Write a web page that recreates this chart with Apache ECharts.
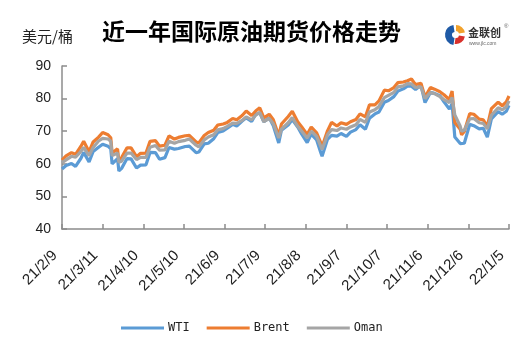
<!DOCTYPE html>
<html>
<head>
<meta charset="utf-8">
<title>近一年国际原油期货价格走势</title>
<script src="https://cdn.jsdelivr.net/npm/echarts@6/dist/echarts.min.js"></script>
<style>
  html, body { margin: 0; padding: 0; background: #fff; }
  #main { width: 531px; height: 354px; }
</style>
</head>
<body>
<div id="main"></div>
<script>
// 日期（按月分行）
var dates = [
  '2021-02-09','2021-02-12','2021-02-16','2021-02-19','2021-02-23','2021-02-25',
  '2021-03-01','2021-03-04','2021-03-08','2021-03-11','2021-03-15','2021-03-17','2021-03-18','2021-03-22','2021-03-23','2021-03-25','2021-03-29',
  '2021-04-01','2021-04-05','2021-04-08','2021-04-12','2021-04-15','2021-04-19','2021-04-22','2021-04-26','2021-04-29',
  '2021-05-03','2021-05-06','2021-05-11','2021-05-14','2021-05-19','2021-05-21','2021-05-25','2021-05-28',
  '2021-06-01','2021-06-04','2021-06-08','2021-06-11','2021-06-15','2021-06-18','2021-06-22','2021-06-25','2021-06-29',
  '2021-07-02','2021-07-05','2021-07-08','2021-07-12','2021-07-15','2021-07-19','2021-07-21','2021-07-26','2021-07-29',
  '2021-08-02','2021-08-05','2021-08-09','2021-08-12','2021-08-16','2021-08-19','2021-08-20','2021-08-24','2021-08-27','2021-08-31',
  '2021-09-03','2021-09-07','2021-09-10','2021-09-14','2021-09-17','2021-09-21','2021-09-24','2021-09-28',
  '2021-10-01','2021-10-05','2021-10-08','2021-10-12','2021-10-15','2021-10-19','2021-10-22','2021-10-25','2021-10-28',
  '2021-11-01','2021-11-04','2021-11-08','2021-11-11','2021-11-15','2021-11-18','2021-11-22','2021-11-24','2021-11-26','2021-11-30',
  '2021-12-01','2021-12-03','2021-12-07','2021-12-10','2021-12-14','2021-12-17','2021-12-20','2021-12-23','2021-12-28','2021-12-31',
  '2022-01-03','2022-01-05'
];

var wti = [
  58.4, 59.5, 60.1, 59.2, 61.7, 63.5,
  60.6, 63.8, 65.1, 66.0, 65.4, 64.6, 60.0, 61.6, 57.8, 58.6, 61.6,
  61.5, 58.7, 59.6, 59.7, 63.5, 63.4, 61.4, 61.9, 65.0,
  64.5, 64.7, 65.3, 65.4, 63.4, 63.6, 66.1, 66.3,
  67.7, 69.6, 70.1, 70.9, 72.1, 71.6, 73.1, 74.1, 73.0,
  75.2, 75.6, 72.9, 74.1, 71.7, 66.4, 70.3, 71.9, 73.6,
  71.3, 69.1, 66.5, 69.1, 67.3, 63.5, 62.3, 67.5, 68.7, 68.5,
  69.3, 68.4, 69.7, 70.5, 72.0, 70.6, 74.0, 75.3,
  75.9, 78.9, 79.4, 80.6, 82.3, 83.0, 83.8, 83.8, 82.8,
  84.1, 78.8, 81.9, 81.6, 80.9, 79.0, 76.8, 78.4, 68.2, 66.2,
  65.6, 66.3, 72.1, 71.7, 70.7, 70.9, 68.2, 73.8, 76.0, 75.2,
  76.1, 77.9
];

var brent = [
  61.1, 62.4, 63.4, 62.9, 65.4, 66.9,
  63.7, 66.7, 68.2, 69.6, 68.9, 68.0, 63.3, 64.6, 60.8, 61.9, 64.9,
  64.9, 62.2, 63.2, 63.3, 66.9, 67.1, 65.4, 65.7, 68.6,
  67.6, 68.1, 68.6, 68.7, 66.7, 66.4, 68.7, 69.6,
  70.3, 71.9, 72.2, 72.7, 73.9, 73.5, 74.8, 76.2, 74.8,
  76.2, 77.2, 74.1, 75.2, 73.5, 68.6, 72.2, 74.5, 76.1,
  72.9, 71.3, 69.0, 71.3, 69.5, 66.5, 65.2, 70.1, 72.7, 71.6,
  72.6, 72.1, 72.9, 73.6, 75.3, 74.4, 78.1, 78.1,
  79.3, 82.6, 82.4, 83.4, 84.9, 85.1, 85.5, 86.0, 84.3,
  84.7, 80.5, 83.4, 82.9, 82.1, 81.2, 79.7, 82.3, 72.7, 70.6,
  68.9, 69.9, 75.4, 75.2, 73.7, 73.5, 71.5, 76.9, 78.9, 77.8,
  79.0, 80.8
];

var oman = [
  60.3, 61.2, 62.3, 62.0, 63.8, 65.0,
  62.5, 65.0, 67.0, 67.8, 67.6, 66.9, 62.5, 63.3, 60.5, 60.8, 63.3,
  63.3, 61.3, 62.0, 62.0, 65.1, 65.6, 64.2, 64.3, 66.9,
  66.3, 66.8, 67.2, 67.6, 65.7, 65.2, 67.3, 68.2,
  68.9, 70.4, 70.8, 71.5, 72.5, 72.4, 73.3, 74.4, 73.5,
  74.9, 75.8, 72.9, 73.9, 72.3, 67.9, 70.6, 72.6, 74.2,
  71.5, 70.0, 67.9, 70.0, 68.4, 65.4, 64.4, 68.9, 70.5, 70.2,
  71.0, 70.6, 71.3, 72.0, 73.6, 72.7, 75.9, 76.6,
  77.6, 80.3, 81.0, 81.9, 83.6, 83.9, 84.6, 84.5, 83.4,
  83.6, 80.0, 81.9, 81.5, 80.6, 79.7, 78.8, 80.3, 75.0, 71.5,
  70.0, 70.3, 73.8, 73.9, 72.6, 72.4, 70.7, 74.9, 77.2, 76.6,
  77.5, 79.3
];

// 坐标轴：从 21/2/9 起，每 30 天一个刻度
var startDate = '2021-02-09';
var tickDays = 30;
var tickCount = 11;

var DAY = 86400000;
function toUTC(s) {
    var p = s.split('-');
    return Date.UTC(+p[0], +p[1] - 1, +p[2]);
}
var t0 = toUTC(startDate);
function dayOffset(s) {
    return Math.round((toUTC(s) - t0) / DAY);
}
function offsetLabel(v) {
    var d = new Date(t0 + v * DAY);
    return String(d.getUTCFullYear()).slice(2) + '/' + (d.getUTCMonth() + 1) + '/' + d.getUTCDate();
}
function pairs(vals) {
    return dates.map(function (d, i) { return [dayOffset(d), vals[i]]; });
}

var chart = echarts.init(document.getElementById('main'));

var axisFont = 'Liberation Sans, Arial, sans-serif';

chart.setOption({
    animation: false,
    color: ['#5B9BD5', '#ED7D31', '#A5A5A5'],
    grid: {
        left: 62,
        right: 22,
        top: 66,
        bottom: 125
    },
    legend: {
        bottom: 15,
        left: 116,
        icon: 'rect',
        itemWidth: 43,
        itemHeight: 3,
        itemGap: 17,
        textStyle: {
            fontFamily: 'DejaVu Sans Mono, monospace',
            fontSize: 12,
            color: '#222',
            padding: [0, 0, 0, -1]
        },
        data: ['WTI', 'Brent', 'Oman']
    },
    xAxis: {
        type: 'value',
        min: 0,
        max: tickDays * tickCount,
        interval: tickDays,
        splitLine: { show: false },
        axisLine: { lineStyle: { color: '#8c8c8c', width: 1.5 } },
        axisTick: { inside: true, length: 5, lineStyle: { color: '#8c8c8c', width: 1.5 } },
        axisLabel: {
            rotate: 45,
            margin: 17,
            padding: [0, 10, 0, 0],
            fontFamily: axisFont,
            fontSize: 15,
            color: '#222',
            showMinLabel: true,
            showMaxLabel: true,
            formatter: offsetLabel
        }
    },
    yAxis: {
        type: 'value',
        min: 40,
        max: 90,
        interval: 10,
        splitLine: { show: false },
        axisLine: { show: true, lineStyle: { color: '#8c8c8c', width: 1.5 } },
        axisTick: { show: true, inside: true, length: 5, lineStyle: { color: '#8c8c8c', width: 1.5 } },
        axisLabel: {
            margin: 11,
            fontFamily: axisFont,
            fontSize: 14,
            color: '#222'
        }
    },
    series: [
        { name: 'WTI', type: 'line', data: pairs(wti), showSymbol: false, lineStyle: { width: 3.2 } },
        { name: 'Brent', type: 'line', data: pairs(brent), showSymbol: false, lineStyle: { width: 3.2 } },
        { name: 'Oman', type: 'line', data: pairs(oman), showSymbol: false, lineStyle: { width: 3.2 } }
    ],
    graphic: [
        {
            type: 'text', left: 22, top: 29,
            style: { text: '美元/桶', font: '15px "Noto Sans CJK SC"', fill: '#222' }
        },
        {
            type: 'text', left: 102, top: 20,
            style: { text: '近一年国际原油期货价格走势', font: 'bold 23px "Noto Sans CJK SC"', fill: '#000' }
        },
        // 金联创 logo
        {
            type: 'group', left: 445, top: 23,
            children: [
                { type: 'sector', shape: { cx: 10, cy: 11, r: 10, r0: 3, startAngle: Math.PI * 0.55, endAngle: Math.PI * 1.45 }, style: { fill: '#1f5aa6' } },
                { type: 'sector', shape: { cx: 11, cy: 11, r: 9, r0: 3, startAngle: Math.PI * 0.05, endAngle: Math.PI * 0.55 }, style: { fill: '#d9312b' } },
                { type: 'sector', shape: { cx: 11, cy: 10, r: 9, r0: 3, startAngle: Math.PI * 1.5, endAngle: Math.PI * 1.95 }, style: { fill: '#f2a22c' } },
                { type: 'text', x: 23, y: 3, style: { text: '金联创', font: 'bold 11px "Noto Sans CJK SC"', fill: '#333' } },
                { type: 'text', x: 59, y: -1, style: { text: '®', font: '6px sans-serif', fill: '#666' } },
                { type: 'text', x: 24, y: 17, style: { text: 'www.jlc.com', font: '5px sans-serif', fill: '#666' } }
            ]
        }
    ]
});
</script>
</body>
</html>
